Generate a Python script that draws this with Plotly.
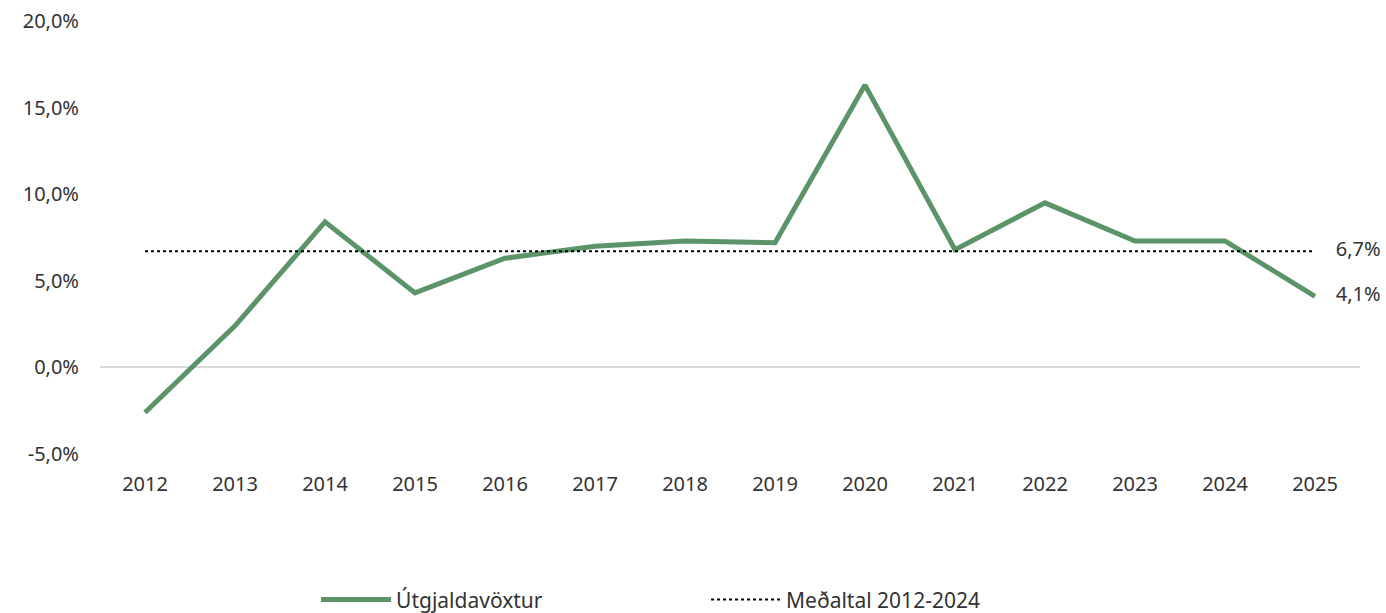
import plotly.graph_objects as go

years = ["2012", "2013", "2014", "2015", "2016", "2017", "2018", "2019",
         "2020", "2021", "2022", "2023", "2024", "2025"]
growth = [-2.6, 2.4, 8.4, 4.3, 6.3, 7.0, 7.3, 7.2, 16.3, 6.8, 9.5, 7.3, 7.3, 4.1]
average = 6.7
y_ticks = [-5, 0, 5, 10, 15, 20]
y_tick_labels = ["-5,0%", "0,0%", "5,0%", "10,0%", "15,0%", "20,0%"]

def fmt(v):
    return f"{v:.1f}%".replace(".", ",")

FONT = "Noto Sans"
GREEN = "rgb(91,148,105)"
TXT = "#333333"

fig = go.Figure()
fig.add_trace(go.Scatter(
    x=years, y=growth, mode="lines+text", name="Útgjaldavöxtur",
    line=dict(color=GREEN, width=5),
    text=[""] * (len(years) - 1) + ["    " + fmt(growth[-1])],
    textposition="middle right",
    textfont=dict(family=FONT, size=20, color=TXT),
    cliponaxis=False,
))
fig.add_trace(go.Scatter(
    x=years, y=[average] * len(years), mode="lines+text", name="Meðaltal 2012-2024",
    line=dict(color="black", width=2, dash="dot"),
    text=[""] * (len(years) - 1) + ["    " + fmt(average)],
    textposition="middle right",
    textfont=dict(family=FONT, size=20, color=TXT),
    cliponaxis=False,
))

fig.update_layout(
    width=1386, height=613,
    margin=dict(l=100, r=26, t=21, b=159, autoexpand=False),
    plot_bgcolor="white", paper_bgcolor="white",
    font=dict(family=FONT, size=20, color=TXT),
    showlegend=True,
    legend=dict(orientation="h", x=0.481, xanchor="center", y=-0.337, yanchor="middle",
                font=dict(family=FONT, size=21, color=TXT),
                entrywidth=305, entrywidthmode="pixels",
                itemwidth=70),
    xaxis=dict(type="category", range=[-0.5, len(years) - 0.5],
               showgrid=False, zeroline=False, showline=False,
               ticks="", ticklabelstandoff=16, automargin=False),
    yaxis=dict(range=[-5, 20], tickvals=y_ticks, ticktext=y_tick_labels,
               showgrid=False, zeroline=True, zerolinecolor="#d9d9d9", zerolinewidth=2,
               showline=False, ticks="", ticklabelstandoff=20, automargin=False,
               ticklabeloverflow="allow"),
)

fig.write_html(
    "out.html",
    config={"displayModeBar": False},
    post_script="document.body.style.margin='0';document.body.style.overflow='hidden';",
)
